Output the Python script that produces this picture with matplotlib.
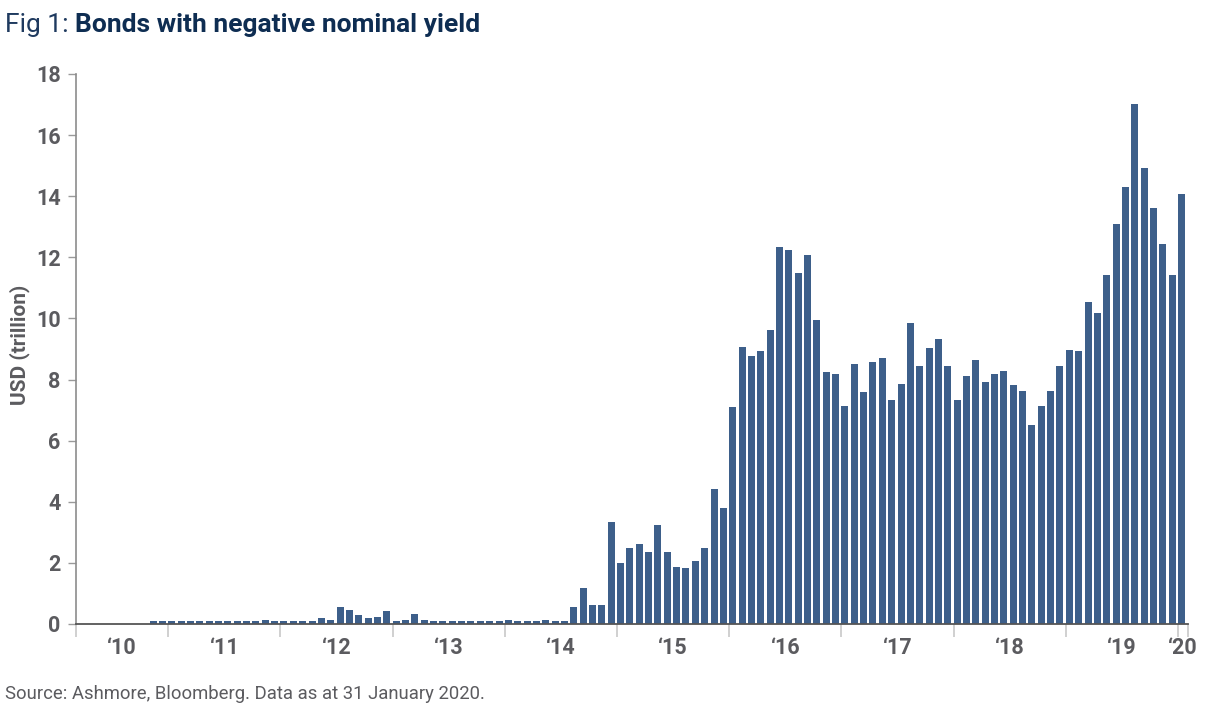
import matplotlib
matplotlib.use("Agg")
import matplotlib.pyplot as plt
import numpy as np

# ---- data: monthly values, Nov 2010 .. Jan 2020 (USD trillion)
start_month = 10  # months since Jan 2010 (10 = Nov 2010)
values = [
    0.10, 0.10, 0.10, 0.10, 0.10, 0.10, 0.10, 0.10, 0.10, 0.10, 0.10, 0.10,
    0.13, 0.10, 0.10, 0.10, 0.10, 0.10, 0.20, 0.14, 0.55, 0.47, 0.28, 0.20,
    0.24, 0.43, 0.10, 0.14, 0.33, 0.14, 0.10, 0.10, 0.10, 0.10, 0.10, 0.10,
    0.10, 0.10, 0.12, 0.10, 0.10, 0.10, 0.13, 0.11, 0.11, 0.57, 1.17, 0.61,
    0.63, 3.33, 2.01, 2.49, 2.62, 2.37, 3.25, 2.37, 1.86, 1.83, 2.07, 2.49,
    4.43, 3.81, 7.10, 9.06, 8.78, 8.93, 9.63, 12.33, 12.24, 11.49, 12.09, 9.96,
    8.26, 8.18, 7.12, 8.52, 7.60, 8.56, 8.71, 7.34, 7.84, 9.85, 8.45, 9.03,
    9.32, 8.43, 7.34, 8.13, 8.64, 7.92, 8.19, 8.28, 7.83, 7.62, 6.50, 7.13,
    7.61, 8.45, 8.98, 8.93, 10.53, 10.17, 11.43, 13.09, 14.29, 17.02, 14.92, 13.60,
    12.44, 11.42, 14.06,
]
year_labels = ["\u201810", "\u201811", "\u201812", "\u201813", "\u201814",
               "\u201815", "\u201816", "\u201817", "\u201818", "\u201819", "\u201820"]
y_ticks = [0, 2, 4, 6, 8, 10, 12, 14, 16, 18]

title_light = "Fig 1: "
title_bold = "Bonds with negative nominal yield"
y_label = "USD (trillion)"
source = "Source: Ashmore, Bloomberg. Data as at 31 January 2020."

plt.rcParams["font.family"] = ["Roboto", "DejaVu Sans"]

BAR = "#3d5f8a"
GREY_TXT = "#5b5b5f"
NAVY = "#0e2d52"

fig = plt.figure(figsize=(12.18, 7.2), dpi=100)
ax = fig.add_axes([76 / 1218, 96 / 720, (1188 - 76) / 1218, 550 / 720])

months = start_month + np.arange(len(values))
ax.bar(months, values, width=0.75, align="edge", color=BAR, linewidth=0)

x_left, x_right = 2.13, 121.07
ax.set_xlim(x_left, x_right)
ax.set_ylim(0, 18)

for s in ["top", "right"]:
    ax.spines[s].set_visible(False)
ax.spines["left"].set_color("#8c8c8c")
ax.spines["left"].set_linewidth(1.2)
ax.spines["bottom"].set_color("#555555")
ax.spines["bottom"].set_linewidth(1.3)

ax.set_yticks(y_ticks)
ax.set_yticklabels([str(v) for v in y_ticks], fontsize=15.5, fontweight="bold",
                   color=GREY_TXT)
ax.tick_params(axis="y", length=6, width=1, color="#9a9a9a", pad=5)

year_bounds = [x_left] + [12 * k for k in range(1, 11)] + [x_right]
ax.set_xticks(year_bounds)
ax.set_xticklabels([""] * len(year_bounds))
ax.tick_params(axis="x", which="major", length=9, width=1.2, color="#c8c8c8")
centres = [(year_bounds[i] + year_bounds[i + 1]) / 2 for i in range(len(year_bounds) - 1)]
ax.set_xticks(centres, minor=True)
ax.set_xticklabels(year_labels, minor=True, fontsize=15.5, fontweight="bold",
                   color=GREY_TXT)
ax.tick_params(axis="x", which="minor", length=0, pad=9)

ax.set_ylabel(y_label, fontsize=15, color=GREY_TXT, fontweight="bold")
ax.yaxis.set_label_coords(-0.041, 0.507)

t1 = fig.text(5 / 1218, 1 - 32 / 720, title_light, fontsize=19, color="#1f3a5f",
              ha="left", va="baseline", fontweight="normal")
renderer = fig.canvas.get_renderer()
bb = t1.get_window_extent(renderer=renderer)
fig.text(bb.x1 / fig.bbox.width, 1 - 32 / 720, title_bold, fontsize=19,
         fontweight="bold", color=NAVY, ha="left", va="baseline")

fig.text(5 / 1218, 1 - 699 / 720, source, fontsize=13.3, color=GREY_TXT,
         ha="left", va="baseline")

fig.savefig("out.png", dpi=100, facecolor="white")
